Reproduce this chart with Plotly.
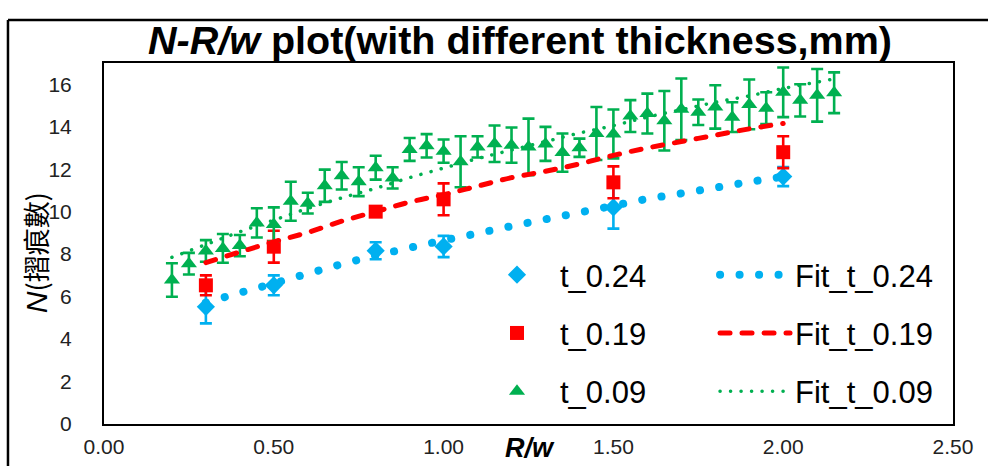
import plotly.graph_objects as go

# ---- measured series: N (crease count) vs R/w for three sheet thicknesses (mm) ----
x_024 = [0.30, 0.50, 0.80, 1.00, 1.50, 2.00]
y_024 = [5.52, 6.53, 8.16, 8.36, 10.20, 11.65]
e_024 = [0.78, 0.47, 0.40, 0.50, 1.00, 0.45]

x_019 = [0.30, 0.50, 0.80, 1.00, 1.50, 2.00]
y_019 = [6.53, 8.35, 10.00, 10.58, 11.38, 12.80]
e_019 = [0.47, 0.75, 0.15, 0.75, 0.75, 0.75]

x_009 = [0.20, 0.25, 0.30, 0.35, 0.40, 0.45, 0.50, 0.55, 0.60, 0.65,
         0.70, 0.75, 0.80, 0.85, 0.90, 0.95, 1.00, 1.05, 1.10, 1.15,
         1.20, 1.25, 1.30, 1.35, 1.40, 1.45, 1.50, 1.55, 1.60, 1.65,
         1.70, 1.75, 1.80, 1.85, 1.90, 1.95, 2.00, 2.05, 2.10, 2.15]
y_009 = [6.78, 7.55, 8.15, 8.27, 8.40, 9.47, 9.40, 10.49, 10.40, 11.22,
         11.69, 11.41, 12.07, 11.59, 12.93, 13.10, 12.85, 12.35, 13.05, 13.20,
         13.13, 13.05, 13.19, 12.78, 13.01, 13.68, 13.66, 14.50, 14.62, 14.28,
         14.82, 14.68, 14.93, 14.45, 15.05, 14.87, 15.62, 15.24, 15.48, 15.60]
e_009 = [0.79, 0.51, 0.51, 0.68, 0.50, 0.69, 0.80, 0.92, 0.49, 0.76,
         0.65, 0.68, 0.56, 0.50, 0.54, 0.55, 0.55, 1.20, 0.50, 0.86,
         0.83, 1.33, 0.80, 0.90, 0.43, 1.25, 1.15, 0.75, 0.94, 1.40,
         1.45, 0.60, 1.02, 0.70, 1.17, 0.75, 1.17, 0.76, 1.24, 0.96]

# ---- fitted curves ----
fx_024 = [0.30, 0.40, 0.50, 0.60, 0.70, 0.80, 0.90, 1.00, 1.10, 1.20,
          1.30, 1.40, 1.50, 1.60, 1.70, 1.80, 1.90, 2.00]
fy_024 = [5.72, 6.18, 6.62, 7.08, 7.53, 7.93, 8.30, 8.65, 8.98, 9.32,
          9.64, 9.96, 10.28, 10.60, 10.86, 11.13, 11.40, 11.65]

fx_019 = [0.30, 0.40, 0.50, 0.60, 0.70, 0.80, 0.90, 1.00, 1.10, 1.20,
          1.30, 1.40, 1.50, 1.60, 1.70, 1.80, 1.90, 2.00]
fy_019 = [7.60, 8.10, 8.58, 9.02, 9.55, 10.00, 10.45, 10.80, 11.20, 11.60,
          11.90, 12.25, 12.65, 13.00, 13.30, 13.60, 13.90, 14.15]

fx_009 = [0.20, 0.30, 0.40, 0.50, 0.60, 0.70, 0.80, 0.90, 1.00, 1.10,
          1.20, 1.30, 1.40, 1.50, 1.60, 1.70, 1.80, 1.90, 2.00, 2.10, 2.15]
fy_009 = [7.85, 8.45, 9.05, 9.60, 10.15, 10.65, 11.10, 11.60, 12.05, 12.50,
          12.90, 13.30, 13.70, 14.05, 14.45, 14.80, 15.15, 15.45, 15.80, 16.10, 16.25]

x_ticks = [0, 0.5, 1.0, 1.5, 2.0, 2.5]
y_ticks = [0, 2, 4, 6, 8, 10, 12, 14, 16]

BLUE = "#00B0F0"
RED = "#FF0000"
GREEN = "#00B050"
FONT = "Liberation Sans, Arial, sans-serif"

fig = go.Figure()


def err(vals, color):
    return dict(type="data", array=vals, visible=True, color=color,
                thickness=2.6, width=6)


fig.add_trace(go.Scatter(
    x=x_024, y=y_024, mode="markers", name="t_0.24",
    marker=dict(symbol="diamond", size=14, color=BLUE),
    error_y=err(e_024, BLUE), legend="legend", legendgroup="a1"))
fig.add_trace(go.Scatter(
    x=x_019, y=y_019, mode="markers", name="t_0.19",
    marker=dict(symbol="square", size=14, color=RED),
    error_y=err(e_019, RED), legend="legend", legendgroup="a2"))
fig.add_trace(go.Scatter(
    x=x_009, y=y_009, mode="markers", name="t_0.09",
    marker=dict(symbol="triangle-up", size=14, color=GREEN),
    error_y=err(e_009, GREEN), legend="legend", legendgroup="a3"))

fig.add_trace(go.Scatter(
    x=fx_024, y=fy_024, mode="lines", name="Fit_t_0.24",
    line=dict(color=BLUE, width=8, dash="0.1px,19.4px", shape="spline"),
    legend="legend2", legendgroup="b1"))
fig.add_trace(go.Scatter(
    x=fx_019, y=fy_019, mode="lines", name="Fit_t_0.19",
    line=dict(color=RED, width=5, dash="10px,12px", shape="spline"),
    legend="legend2", legendgroup="b2"))
fig.add_trace(go.Scatter(
    x=fx_009, y=fy_009, mode="lines", name="Fit_t_0.09",
    line=dict(color=GREEN, width=3.5, dash="0.1px,10.4px", shape="spline"),
    legend="legend2", legendgroup="b3"))

axis_common = dict(showline=True, mirror=True, linecolor="black", linewidth=2,
                   showgrid=False, zeroline=False, ticks="", automargin=False,
                   tickfont=dict(family=FONT, size=21, color="#222222"))

legend_common = dict(y=0.4875, xanchor="left", yanchor="top",
                     font=dict(family=FONT, size=31, color="black"),
                     tracegroupgap=15, traceorder="grouped",
                     bgcolor="rgba(0,0,0,0)")

fig.update_layout(
    width=988, height=466,
    margin=dict(l=104, r=35, t=63, b=42, autoexpand=False),
    paper_bgcolor="white", plot_bgcolor="white",
    font=dict(family=FONT, color="black"),
    title=dict(text="<b><i>N-R/w</i> plot(with different thickness,mm)</b>",
               xref="paper", x=0.49, xanchor="center",
               yref="container", y=1 - 40 / 466, yanchor="middle",
               font=dict(family=FONT, size=39.5, color="black")),
    xaxis=dict(range=[0, 2.5], tickvals=x_ticks, tickformat=".2f",
               ticklabelstandoff=3, **axis_common),
    yaxis=dict(range=[0, 17], tickvals=y_ticks, ticklabelstandoff=26,
               **axis_common),
    legend=dict(x=0.4358, itemwidth=76, **legend_common),
    legend2=dict(x=0.7197, itemwidth=70, **legend_common),
    showlegend=True,
)

# axis titles
fig.add_annotation(
    text="<i>N</i><span style=\"font-family:'Noto Sans CJK TC';font-size:27px\">(摺痕數)</span>",
    xref="paper", yref="paper", x=-0.0813, y=0.476,
    xanchor="center", yanchor="middle", showarrow=False,
    textangle=-90, font=dict(family=FONT, size=30, color="black"))
fig.add_annotation(
    text="<b><i>R/w</i></b>", xref="paper", yref="paper",
    x=0.502, y=-0.066, xanchor="center", yanchor="middle", showarrow=False,
    font=dict(family=FONT, size=27, color="black"))

# outer frame (left and top edges)
fig.add_shape(type="line", xref="paper", yref="paper",
              x0=-0.1131, y0=-0.2, x1=-0.1131, y1=1.1191,
              line=dict(color="black", width=2.5))
fig.add_shape(type="line", xref="paper", yref="paper",
              x0=-0.1131, y0=1.1191, x1=1.1, y1=1.1191,
              line=dict(color="black", width=2.5))

round_caps = """
document.querySelectorAll('path.js-line').forEach(function(p){
  p.style.strokeLinecap = 'round';
});
"""

fig.write_html("out.html", post_script=round_caps)
